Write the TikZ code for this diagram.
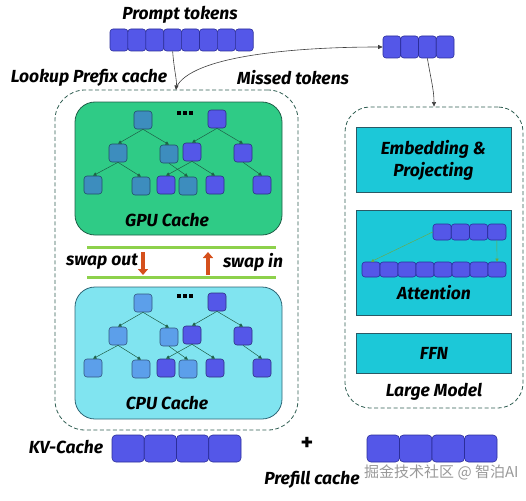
\documentclass[tikz,border=0pt]{standalone}
\usepackage{fontspec}
\setmainfont{Fira Sans}
\newfontfamily\cjkfont{Noto Sans CJK SC}
\usetikzlibrary{arrows.meta}
\definecolor{tok}{HTML}{5457E8}
\definecolor{tokd}{HTML}{2B2E9A}
\definecolor{gpu}{HTML}{2FCB86}
\definecolor{gpud}{HTML}{1F5F48}
\definecolor{cpu}{HTML}{80E4F0}
\definecolor{cpud}{HTML}{2E6676}
\definecolor{lgpu}{HTML}{3D8DBE}
\definecolor{lcpu}{HTML}{5C9FEA}
\definecolor{model}{HTML}{1CC8D8}
\definecolor{modeld}{HTML}{2A5A66}
\definecolor{dashc}{HTML}{2F5E52}
\definecolor{limec}{HTML}{8DD14B}
\definecolor{swapc}{HTML}{D5501C}
\tikzset{
  lbl/.style={font=\fontsize{17.5}{20}\selectfont\bfseries\itshape, text=black, inner sep=0pt, align=center},
  tokbox/.style={draw=tokd, fill=tok, rounded corners=3pt, line width=0.6pt, inner sep=0pt},
  treen/.style={draw=#1!55!black, fill=#1, rounded corners=3pt, line width=0.6pt, minimum width=18pt, minimum height=18pt, inner sep=0pt},
  treeedge/.style={draw=gpud, line width=0.5pt, -{Triangle[length=3.5pt,width=3.5pt]}},
  conn/.style={draw=black!75, line width=0.6pt, -{Triangle[length=4.5pt,width=4pt]}},
  dbox/.style={draw=dashc, dashed, dash pattern=on 4pt off 2.5pt, line width=0.8pt, rounded corners=30pt},
  mbox/.style={draw=modeld, fill=model, line width=0.8pt},
  swaparrow/.style={draw=swapc, line width=3.6pt, -{Triangle[length=6pt,width=10pt]}},
}
\newcommand{\cachetree}[3]{%
  \begin{scope}[shift={(0,#2)}]
    \node[treen=#3] (#1r1) at (143,120) {};
    \node[treen=tok] (#1r2) at (217,119) {};
    \node[treen=#3] (#1a) at (118,153) {};
    \node[treen=#3] (#1b) at (169,154) {};
    \node[treen=tok] (#1c) at (192,152) {};
    \node[treen=tok] (#1d) at (243,153) {};
    \node[treen=#3] (#1e) at (93,185) {};
    \node[treen=#3] (#1f) at (141,186) {};
    \node[treen=tok] (#1g) at (166,185) {};
    \node[treen=#3] (#1h) at (188,186) {};
    \node[treen=tok] (#1i) at (215,185) {};
    \node[treen=tok] (#1j) at (262,185) {};
    \fill (177,111) rectangle ++(4,4);
    \fill (183,111) rectangle ++(4,4);
    \fill (189,111) rectangle ++(4,4);
    \draw[treeedge] (#1r1.south) -- (#1a.north);
    \draw[treeedge] (#1r1.south) -- (#1b.north);
    \draw[treeedge] (#1a.south) -- (#1e.north);
    \draw[treeedge] (#1a.south) -- (#1f.north);
    \draw[treeedge] (#1b.south) -- (#1h.north);
    \draw[treeedge] (#1r2.south) -- (#1c.north);
    \draw[treeedge] (#1r2.south) -- (#1d.north);
    \draw[treeedge] (#1c.south) -- (#1g.north);
    \draw[treeedge] (#1c.south) -- (#1i.north);
    \draw[treeedge] (#1d.south) -- (#1j.north);
  \end{scope}}
\begin{document}
\begin{tikzpicture}[x=1pt,y=-1pt]
\useasboundingbox (0,0) rectangle (526,500);
% outer dashed boxes
\node[dbox, minimum width=243pt, minimum height=340pt] (left) at (176.5,260) {};
\node[dbox, minimum width=178pt, minimum height=301pt, rounded corners=25pt] (right) at (434,257.5) {};
% prompt tokens
\node[lbl] (ptl) at (180,15) {Prompt tokens};
\foreach \i in {1,...,8} {
  \node[tokbox, minimum width=17.9pt, minimum height=22pt] (p\i) at ({110+17.9*(\i-0.5)},40) {};
}
\foreach \i in {1,...,4} {
  \node[tokbox, minimum width=17.75pt, minimum height=22pt] (m\i) at ({383+17.75*(\i-0.5)},47) {};
}
\coordinate (lk) at (176,90);
\draw[conn] (p4.south) .. controls (174,70) and (177,80) .. (lk);
\draw[conn] (176,88) .. controls (190,55) and (300,47) .. (m1.west);
\draw[conn] (m3.south) .. controls (431,80) and (434,90) .. (right.north);
\node[lbl] (lkl) at (89,78) {Lookup Prefix cache};
\node[lbl] (mtl) at (293,78) {Missed tokens};
% GPU cache
\node[draw=gpud, fill=gpu, line width=0.8pt, rounded corners=20pt, minimum width=207pt, minimum height=133pt] (gpu) at (178.5,168.5) {};
\cachetree{g}{0}{lgpu}
\node[lbl] (gpul) at (167,220) {GPU Cache};
% swap
\draw[limec, line width=3pt] (87,247) -- (276,247);
\draw[limec, line width=3pt] (87,277) -- (276,277);
\coordinate (so1) at (143,252); \coordinate (so2) at (143,275);
\coordinate (si1) at (208,275); \coordinate (si2) at (208,252);
\draw[swaparrow] (so1) -- (so2);
\draw[swaparrow] (si1) -- (si2);
\node[lbl] (sol) at (102,262) {swap out};
\node[lbl] (sil) at (253,262) {swap in};
% CPU cache
\node[draw=cpud, fill=cpu, line width=0.8pt, rounded corners=20pt, minimum width=207pt, minimum height=132pt] (cpu) at (178.5,353) {};
\cachetree{c}{183}{lcpu}
\node[lbl] (cpul) at (167,403) {CPU Cache};
% model
\node[mbox, minimum width=155pt, minimum height=65pt] (emb) at (433.5,159.5) {};
\node[lbl, font=\fontsize{17.5}{22}\selectfont\bfseries\itshape] (embl) at (433.5,160) {Embedding \&\\Projecting};
\node[mbox, minimum width=155pt, minimum height=105pt] (att) at (433.5,262.5) {};
\foreach \i in {1,...,4} {
  \node[tokbox, minimum width=18.25pt, minimum height=16pt] (at\i) at ({433+18.25*(\i-0.5)},232) {};
}
\foreach \i in {1,...,8} {
  \node[tokbox, minimum width=18pt, minimum height=15pt] (ab\i) at ({362+18*(\i-0.5)},269.5) {};
}
\draw[draw=limec!80!black, line width=0.4pt, -{Triangle[length=3pt,width=3pt]}] (at1.west) -- (ab1.north);
\draw[draw=limec!80!black, line width=0.4pt, -{Triangle[length=3pt,width=3pt]}] (at4.south) -- (ab8.north);
\node[lbl] (attl) at (434,293) {Attention};
\node[mbox, minimum width=155pt, minimum height=40pt] (ffn) at (433.5,353) {};
\node[lbl] (ffnl) at (434,353) {FFN};
\node[lbl] (lml) at (434,392) {Large Model};
% bottom
\node[lbl] (kvl) at (66,447) {KV-Cache};
\foreach \i in {1,...,4} {
  \node[tokbox, minimum width=32.25pt, minimum height=27pt, rounded corners=4pt] (kv\i) at ({112+32.25*(\i-0.5)},448.5) {};
}
\node[lbl, font=\fontsize{24}{24}\selectfont\bfseries] (plus) at (307,444) {+};
\foreach \i in {1,...,4} {
  \node[tokbox, minimum width=32.5pt, minimum height=27pt, rounded corners=4pt] (pf\i) at ({367+32.5*(\i-0.5)},448.5) {};
}
\node[lbl] (pfl) at (312,480) {Prefill cache};
\node[inner sep=0pt, anchor=west, text=black!40, font=\cjkfont\fontsize{15}{15}\selectfont] (wm) at (364,472) {掘金技术社区 @ 智泊AI};
\end{tikzpicture}
\end{document}
